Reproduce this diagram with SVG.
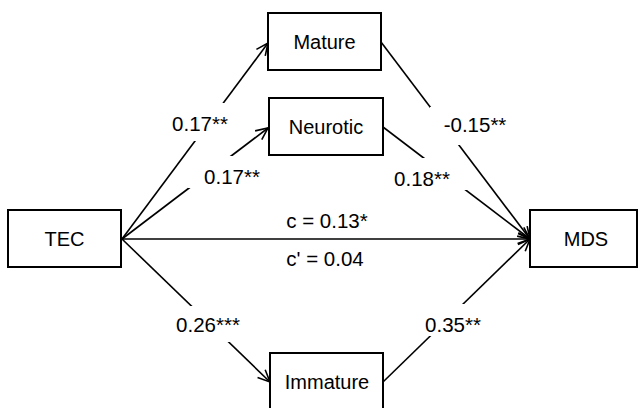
<svg xmlns="http://www.w3.org/2000/svg" width="638" height="408" viewBox="0 0 638 408">
<style>
.box{fill:#fff;stroke:#000;stroke-width:2}
.t{font-family:"Liberation Sans",Arial,sans-serif;font-size:20px;fill:#000;text-anchor:middle}
.ln{stroke:#000;stroke-width:1.6;fill:none}
.lbl{font-family:"Liberation Sans",Arial,sans-serif;font-size:20.5px;fill:#000;text-anchor:middle}
.bg{fill:#fff}
</style>
<defs>
<marker id="ah" viewBox="0 0 14 14" refX="13" refY="7" markerWidth="14" markerHeight="14" markerUnits="userSpaceOnUse" orient="auto">
<path d="M1,1.5 L13,7 L1,12.5" fill="none" stroke="#000" stroke-width="1.6"/>
</marker>
</defs>
<rect width="638" height="408" fill="#fff"/>
<g id="connectors">
<line class="ln" x1="122" y1="239" x2="268" y2="43" marker-end="url(#ah)"/>
<line class="ln" x1="122" y1="239" x2="268" y2="128" marker-end="url(#ah)"/>
<line class="ln" x1="122" y1="239" x2="530" y2="239" marker-end="url(#ah)"/>
<line class="ln" x1="122" y1="239" x2="270" y2="382" marker-end="url(#ah)"/>
<line class="ln" x1="381" y1="42" x2="530" y2="239" marker-end="url(#ah)"/>
<line class="ln" x1="383" y1="127" x2="530" y2="239" marker-end="url(#ah)"/>
<line class="ln" x1="383" y1="382" x2="530" y2="239" marker-end="url(#ah)"/>
<rect class="bg" x="170" y="103" width="60" height="38"/>
<text class="lbl" x="200" y="131">0.17**</text>
<rect class="bg" x="188" y="156" width="76" height="32"/>
<text class="lbl" x="232" y="184">0.17**</text>
<rect class="bg" x="430" y="107" width="80" height="38"/>
<text class="lbl" x="475" y="132">-0.15**</text>
<rect class="bg" x="392" y="158" width="75" height="32"/>
<text class="lbl" x="422" y="186">0.18**</text>
<text class="lbl" x="327" y="228">c = 0.13*</text>
<text class="lbl" x="325" y="266">c' = 0.04</text>
<rect class="bg" x="170" y="306" width="76" height="36"/>
<text class="lbl" x="208" y="332">0.26***</text>
<rect class="bg" x="420" y="304" width="66" height="32"/>
<text class="lbl" x="453" y="332">0.35**</text>
</g>
<g id="mature"><rect class="box" x="268" y="13" width="113" height="57"/><text class="t" x="324.5" y="49">Mature</text></g>
<g id="neurotic"><rect class="box" x="269" y="98" width="114" height="57"/><text class="t" x="326" y="134">Neurotic</text></g>
<g id="tec"><rect class="box" x="8" y="210" width="113" height="57"/><text class="t" x="64.5" y="246">TEC</text></g>
<g id="mds"><rect class="box" x="530" y="210" width="107" height="57"/><text class="t" x="586" y="246">MDS</text></g>
<g id="immature"><rect class="box" x="270" y="353" width="113" height="60"/><text class="t" x="327" y="389">Immature</text></g>
</svg>
